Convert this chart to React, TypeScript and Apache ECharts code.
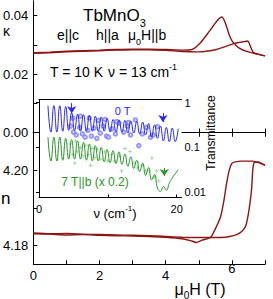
import React, { useEffect, useRef } from "react";
import * as echarts from "echarts";

// ---- main panel: kappa vs field (two sweep branches) ----
const fieldKUp = [0, 0.5, 1, 1.5, 2, 2.5, 3, 3.5, 4, 4.5, 5, 5.5, 5.8, 6.1, 6.37, 6.48, 6.58, 6.65, 6.8, 7.0];
const kappaUp = [0.0271, 0.0273, 0.0276, 0.0278, 0.028, 0.0282, 0.0283, 0.0283, 0.0281, 0.0277, 0.0276, 0.0283, 0.0294, 0.0306, 0.0311, 0.0313, 0.0289, 0.0274, 0.0268, 0.0262];
const fieldKDown = [0, 0.5, 1, 1.5, 2, 2.5, 3, 3.5, 4, 4.5, 4.8, 5.05, 5.31, 5.56, 5.7, 5.8, 5.92, 6.02, 6.22, 6.52, 7.0];
const kappaDown = [0.0273, 0.0275, 0.0278, 0.028, 0.0282, 0.0284, 0.0285, 0.0285, 0.0284, 0.0282, 0.0284, 0.0307, 0.0345, 0.0383, 0.0395, 0.0375, 0.0334, 0.0311, 0.0289, 0.0275, 0.0262];

// ---- lower panel: refractive index n vs field ----
const fieldNUp = [0, 0.5, 1, 1.5, 2, 2.5, 3, 3.5, 4, 4.5, 5, 5.5, 5.8, 6.05, 6.23, 6.35, 6.43, 6.5, 6.55, 6.6, 6.63, 6.67, 6.8, 7.0];
const nUp = [4.1833, 4.1831, 4.1832, 4.183, 4.1829, 4.1828, 4.1827, 4.1826, 4.1824, 4.1822, 4.1821, 4.1821, 4.1822, 4.1826, 4.1833, 4.1842, 4.1855, 4.1885, 4.1915, 4.1955, 4.2, 4.202, 4.2022, 4.2013];
const fieldNDown = [0, 0.5, 1, 1.5, 2, 2.5, 3, 3.5, 4, 4.5, 4.75, 4.92, 5.1, 5.36, 5.51, 5.66, 5.76, 5.84, 5.92, 6.0, 6.1, 6.3, 6.5, 6.63, 6.8, 7.0];
const nDown = [4.1831, 4.183, 4.1828, 4.1829, 4.1827, 4.1826, 4.1825, 4.1824, 4.1822, 4.1818, 4.1813, 4.1808, 4.1814, 4.1822, 4.1846, 4.1877, 4.192, 4.1965, 4.2, 4.2018, 4.2022, 4.2024, 4.2024, 4.2024, 4.202, 4.2013];

// ---- inset: transmittance spectra ----
const nuFringe = [1.3, 1.73, 2.16, 2.59, 3.02, 3.45, 3.88, 4.31, 4.74, 5.17, 5.6, 6.03, 6.46, 6.89, 7.32, 7.75, 8.18, 8.61, 9.04, 9.47, 9.9, 10.33, 10.76, 11.19, 11.62, 12.05, 12.48, 12.91, 13.34, 13.77, 14.2, 14.63, 15.06, 15.49, 15.92, 16.35, 16.78, 17.21, 17.64, 18.07, 18.5, 18.93, 19.36, 19.79, 20.22];
const trans0T = [0.85, 0.22, 0.86, 0.22, 0.85, 0.23, 0.82, 0.24, 0.6, 0.24, 0.55, 0.23, 0.54, 0.23, 0.52, 0.23, 0.5, 0.23, 0.48, 0.23, 0.44, 0.22, 0.42, 0.22, 0.41, 0.22, 0.4, 0.21, 0.39, 0.21, 0.38, 0.2, 0.37, 0.19, 0.34, 0.17, 0.32, 0.16, 0.3, 0.14, 0.28, 0.135, 0.27, 0.135, 0.26];
const trans7T = [0.17, 0.05, 0.17, 0.05, 0.17, 0.052, 0.16, 0.055, 0.15, 0.055, 0.14, 0.055, 0.13, 0.052, 0.12, 0.05, 0.11, 0.05, 0.1, 0.048, 0.09, 0.046, 0.085, 0.044, 0.08, 0.042, 0.072, 0.038, 0.062, 0.034, 0.052, 0.029, 0.045, 0.024, 0.036, 0.019, 0.025, 0.0125, 0.0105, 0.0135, 0.0112, 0.016, 0.021, 0.026, 0.032];
const dots0TNu = [4.6, 5.0, 5.4, 5.9, 6.3, 6.7, 7.1, 7.6, 8.0, 8.4, 8.9, 9.3, 9.8, 10.1, 10.6, 11.1, 11.6, 12.3, 12.8, 13.3, 14.0, 14.5, 15.0, 15.6, 16.2, 16.6, 17.2, 4.9, 6.0, 7.3, 8.6, 9.6, 11.3, 13.0];
const dots0TVal = [0.3, 0.22, 0.19, 0.28, 0.2, 0.17, 0.24, 0.18, 0.27, 0.16, 0.21, 0.3, 0.18, 0.17, 0.26, 0.2, 0.35, 0.22, 0.3, 0.19, 0.41, 0.11, 0.2, 0.28, 0.17, 0.19, 0.29, 0.45, 0.5, 0.45, 0.4, 0.42, 0.38, 0.36];
const dots7TNu = [4.5, 4.9, 5.3, 5.6, 6.0, 6.4, 6.8, 7.2, 7.7, 8.1, 8.5, 9.0, 9.5, 10.0, 10.5, 11.0, 11.7, 12.5, 13.2, 13.8, 14.3, 15.0, 15.5, 16.0, 16.4, 16.8, 17.1, 17.4, 5.2, 7.5, 12.0];
const dots7TVal = [0.12, 0.07, 0.14, 0.08, 0.1, 0.065, 0.11, 0.07, 0.095, 0.06, 0.09, 0.055, 0.08, 0.05, 0.07, 0.05, 0.065, 0.096, 0.081, 0.045, 0.035, 0.04, 0.03, 0.03, 0.058, 0.022, 0.03, 0.018, 0.045, 0.04, 0.03];

// arrows in the inset: [nu, from T, to T]
const arrows0T = [[4.75, 0.97, 0.58], [18.0, 0.58, 0.37]];
const arrows7T = [[18.2, 0.035, 0.0233]];

// ticks
const kappaTicks = [0, 0.01, 0.02, 0.03, 0.04];
const kappaLabels = [0, 0.02, 0.04];
const nTicks = [4.18, 4.19, 4.2, 4.21];
const nLabels = [4.18, 4.2];

const FONT = "'Liberation Sans', Arial, Helvetica, sans-serif";
const MAROON = "#8b1616";
const BLUE = "#2626ff";
const BLUE_LIGHT = "#7c7cff";
const GREEN = "#2a952a";
const GREEN_LIGHT = "#7cc47c";

const zip = (xs: number[], ys: number[]) => xs.map((x, i) => [x, ys[i]]);

function buildOption() {
  const lineBlack = { show: true, lineStyle: { color: "#000", width: 1 } };
  const hBase: any = {
    type: "value",
    min: 0,
    max: 7,
    interval: 1,
    splitLine: { show: false },
    axisLine: lineBlack,
    axisTick: { show: true, inside: true, length: 4, lineStyle: { color: "#000", width: 1 } },
    axisLabel: { show: false },
  };
  const plainY: any = {
    type: "value",
    splitLine: { show: false },
    axisLine: lineBlack,
    axisTick: { show: false },
    axisLabel: { show: false },
  };
  const arrowLine = (arr: number[][], color: string) => ({
    silent: true,
    symbol: ["none", "arrow"],
    symbolSize: 7,
    label: { show: false },
    lineStyle: { color, width: 1, type: "solid" },
    emphasis: { disabled: true },
    data: arr.map((a) => [{ coord: [a[0], a[1]] }, { coord: [a[0], a[2]] }]),
  });

  const t = (x: number, y: number, text: string, extra: any = {}, styleExtra: any = {}) => ({
    type: "text",
    x,
    y,
    z: 20,
    silent: true,
    ...extra,
    style: {
      text,
      fontFamily: FONT,
      fontSize: 14,
      fill: "#000",
      align: "left",
      verticalAlign: "middle",
      ...styleExtra,
    },
  });

  return {
    animation: false,
    backgroundColor: "#fff",
    grid: [
      { left: 31, top: 1, width: 234, height: 131.5 },
      { left: 31, top: 132.5, width: 234, height: 131.8 },
      { left: 39, top: 99.5, width: 142.5, height: 98, show: true, backgroundColor: "#fff", borderWidth: 0, z: 5 },
    ],
    xAxis: [
      { ...hBase, gridIndex: 0, position: "bottom" },
      { ...hBase, gridIndex: 0, position: "top" },
      {
        ...hBase,
        gridIndex: 1,
        position: "bottom",
        axisLabel: {
          show: true,
          margin: 18,
          verticalAlign: "bottom",
          formatter: (v: number) => (v % 2 === 0 ? (v === 6 ? "{up|6}" : "{n|" + v + "}") : ""),
          rich: {
            n: { fontSize: 13, fontFamily: FONT, color: "#000" },
            up: { fontSize: 13, fontFamily: FONT, color: "#000", padding: [0, 0, 7, 0] },
          },
        },
      },
      { ...hBase, gridIndex: 1, position: "top" },
      {
        type: "value",
        gridIndex: 2,
        min: 0,
        max: 20.7,
        interval: 10,
        position: "bottom",
        z: 6,
        splitLine: { show: false },
        axisLine: lineBlack,
        axisTick: { show: true, inside: true, length: 3, lineStyle: { color: "#000" } },
        axisLabel: {
          show: true,
          margin: 6,
          fontSize: 11,
          fontFamily: FONT,
          color: "#000",
          showMaxLabel: false,
          formatter: (v: number) => (v === 0 || v === 20 ? String(v) : ""),
        },
      },
      {
        type: "value",
        gridIndex: 2,
        min: 0,
        max: 20.7,
        position: "top",
        z: 6,
        splitLine: { show: false },
        axisLine: lineBlack,
        axisTick: { show: false },
        axisLabel: { show: false },
      },
    ],
    yAxis: [
      {
        type: "value",
        gridIndex: 0,
        min: 0,
        max: 0.045,
        position: "left",
        splitLine: { show: false },
        axisLine: lineBlack,
        axisTick: { show: true, inside: true, length: 4, customValues: kappaTicks, lineStyle: { color: "#000" } },
        axisLabel: {
          show: true,
          customValues: kappaLabels,
          margin: 5,
          fontSize: 13,
          fontFamily: FONT,
          color: "#000",
          formatter: (v: number) => v.toFixed(2),
        },
      },
      { ...plainY, gridIndex: 0, min: 0, max: 0.045, position: "right" },
      {
        type: "value",
        gridIndex: 1,
        min: 4.175,
        max: 4.21,
        position: "left",
        splitLine: { show: false },
        axisLine: lineBlack,
        axisTick: { show: true, inside: true, length: 4, customValues: nTicks, lineStyle: { color: "#000" } },
        axisLabel: {
          show: true,
          customValues: nLabels,
          margin: 5,
          fontSize: 13,
          fontFamily: FONT,
          color: "#000",
          formatter: (v: number) => v.toFixed(2),
        },
      },
      { ...plainY, gridIndex: 1, min: 4.175, max: 4.21, position: "right" },
      {
        type: "log",
        logBase: 10,
        gridIndex: 2,
        min: 0.0077,
        max: 1.17,
        position: "right",
        z: 6,
        splitLine: { show: false },
        axisLine: lineBlack,
        axisTick: { show: true, inside: true, length: 3, lineStyle: { color: "#000" } },
        axisLabel: {
          show: true,
          margin: 3,
          fontSize: 11,
          fontFamily: FONT,
          color: "#000",
          showMinLabel: false,
          showMaxLabel: false,
        },
      },
      { ...plainY, gridIndex: 2, min: 0, max: 1, position: "left", z: 6 },
    ],
    series: [
      { type: "line", xAxisIndex: 0, yAxisIndex: 0, data: zip(fieldKUp, kappaUp), showSymbol: false, smooth: 0.2, lineStyle: { color: MAROON, width: 1.4 }, z: 3 },
      { type: "line", xAxisIndex: 0, yAxisIndex: 0, data: zip(fieldKDown, kappaDown), showSymbol: false, smooth: 0.2, lineStyle: { color: MAROON, width: 1.4 }, z: 3 },
      { type: "line", xAxisIndex: 2, yAxisIndex: 2, data: zip(fieldNUp, nUp), showSymbol: false, smooth: 0.2, lineStyle: { color: MAROON, width: 1.4 }, z: 3 },
      { type: "line", xAxisIndex: 2, yAxisIndex: 2, data: zip(fieldNDown, nDown), showSymbol: false, smooth: 0.2, lineStyle: { color: MAROON, width: 1.4 }, z: 3 },
      {
        type: "scatter", xAxisIndex: 4, yAxisIndex: 4, data: zip(dots0TNu, dots0TVal),
        symbol: "emptyCircle", symbolSize: 3.5, itemStyle: { color: BLUE_LIGHT, borderColor: BLUE_LIGHT, borderWidth: 0.8 }, z: 7, silent: true,
      },
      {
        type: "scatter", xAxisIndex: 4, yAxisIndex: 4, data: zip(dots7TNu, dots7TVal),
        symbol: "path://M4 0H6V4H10V6H6V10H4V6H0V4H4Z", symbolSize: 4,
        itemStyle: { color: GREEN_LIGHT, borderWidth: 0 }, z: 7, silent: true,
      },
      {
        type: "line", xAxisIndex: 4, yAxisIndex: 4, data: zip(nuFringe, trans0T), showSymbol: false, smooth: 0.5,
        lineStyle: { color: BLUE, width: 1 }, z: 8, markLine: arrowLine(arrows0T, BLUE),
      },
      {
        type: "line", xAxisIndex: 4, yAxisIndex: 4, data: zip(nuFringe, trans7T), showSymbol: false, smooth: 0.5,
        lineStyle: { color: GREEN, width: 1 }, z: 8, markLine: arrowLine(arrows7T, GREEN),
      },
    ],
    graphic: [
      t(3, 31, "κ", {}, { fontSize: 14 }),
      t(1, 198, "n", {}, { fontSize: 17 }),
      t(83, 15, "{m|TbMnO}{s|3}", {}, {
        rich: {
          m: { fontSize: 17, fontFamily: FONT, lineHeight: 26, fill: "#000" },
          s: { fontSize: 11, fontFamily: FONT, lineHeight: 11, verticalAlign: "bottom", fill: "#000" },
        },
      }),
      t(57, 35, "e||c"),
      t(96, 35, "h||a"),
      t(128, 35, "{m|μ}{s|0}{m|H||b}", {}, {
        rich: {
          m: { fontSize: 14, fontFamily: FONT, lineHeight: 22, fill: "#000" },
          s: { fontSize: 9, fontFamily: FONT, lineHeight: 9, verticalAlign: "bottom", fill: "#000" },
        },
      }),
      t(50, 72, "T = 10 K"),
      t(108, 72, "{m|ν = 13 cm}{p|-1}", {}, {
        rich: {
          m: { fontSize: 14, fontFamily: FONT, lineHeight: 20, fill: "#000" },
          p: { fontSize: 9, fontFamily: FONT, lineHeight: 9, verticalAlign: "top", fill: "#000" },
        },
      }),
      t(211, 133, "Transmittance", { rotation: Math.PI / 2 }, { fontSize: 12, align: "center" }),
      t(122.5, 111, "0 T", {}, { fontSize: 11, fill: BLUE, align: "center" }),
      t(95, 182, "7 T||b (x 0.2)", {}, { fontSize: 12, fill: GREEN, align: "center" }),
      t(115, 213, "{m|ν (cm}{p|-1}{m|)}", {}, {
        align: "center",
        rich: {
          m: { fontSize: 13, fontFamily: FONT, lineHeight: 18, fill: "#000" },
          p: { fontSize: 8, fontFamily: FONT, lineHeight: 8, verticalAlign: "top", fill: "#000" },
        },
      }),
      t(200, 289, "{m|μ}{s|0}{m|H (T)}", {}, {
        align: "center",
        rich: {
          m: { fontSize: 16, fontFamily: FONT, lineHeight: 22, fill: "#000" },
          s: { fontSize: 10, fontFamily: FONT, lineHeight: 10, verticalAlign: "bottom", fill: "#000" },
        },
      }),
    ],
  };
}

export default function App() {
  const ref = useRef<HTMLDivElement>(null);
  useEffect(() => {
    if (!ref.current) return;
    const chart = echarts.init(ref.current, undefined, { renderer: "svg" });
    chart.setOption(buildOption() as any);
    return () => chart.dispose();
  }, []);
  return (
    <div
      ref={ref}
      style={{ position: "absolute", left: 0, top: 0, width: 273, height: 299, background: "#fff" }}
    />
  );
}
